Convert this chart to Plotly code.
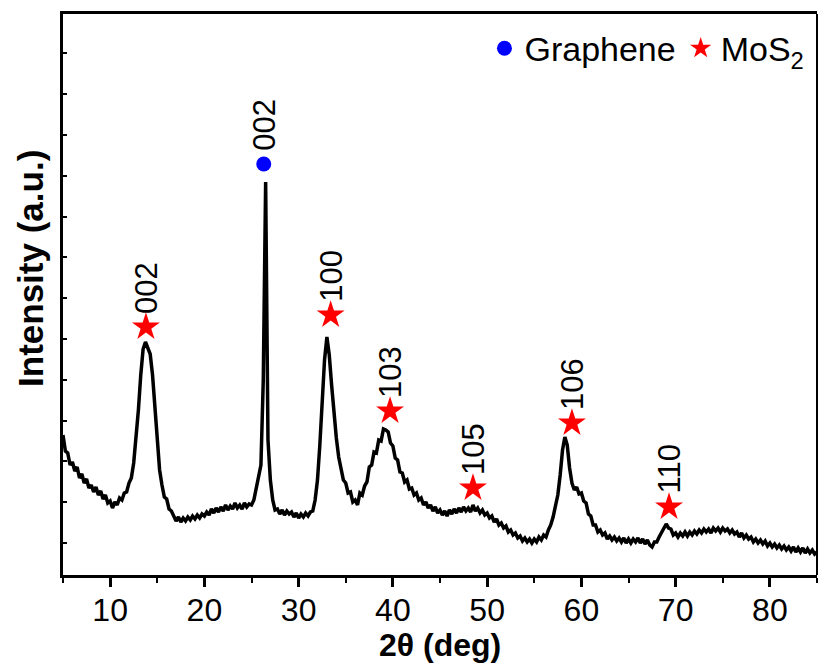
import numpy as np
import plotly.graph_objects as go

# XRD pattern: 2-theta grid (0.25 deg sampling) and intensity (a.u.)
two_theta = np.arange(5.0, 85.0001, 0.25)
intensity = [
    140, 124, 122, 110, 113, 104, 108, 97, 101, 92, 96, 87, 90, 83, 88, 80, 84, 76, 80, 72,
    74, 67, 73, 70, 77, 75, 82, 83, 92, 97, 112, 135, 165, 200, 226, 233, 228, 221, 200, 165,
    130, 105, 90, 78, 76, 66, 64, 58, 54, 58, 53, 57, 54, 58, 55, 59, 56, 60, 57, 61,
    59, 63, 60, 66, 62, 67, 63, 68, 64, 70, 65, 69, 66, 72, 67, 70, 66, 72, 68, 71,
    70, 75, 86, 95, 110, 195, 393, 135, 95, 75, 65, 66, 61, 65, 60, 64, 61, 63, 58, 62,
    57, 61, 58, 62, 59, 63, 64, 75, 95, 130, 175, 215, 238, 220, 190, 160, 137, 118, 107, 95,
    92, 82, 83, 73, 75, 70, 82, 80, 89, 93, 108, 110, 123, 122, 135, 134, 146, 145, 143, 132,
    129, 117, 115, 103, 102, 93, 95, 86, 87, 80, 82, 75, 77, 70, 73, 67, 70, 64, 68, 62,
    65, 60, 64, 59, 65, 61, 66, 62, 67, 63, 68, 64, 67, 63, 70, 64, 67, 62, 65, 60,
    62, 57, 59, 53, 56, 50, 52, 47, 49, 43, 45, 40, 42, 37, 39, 34, 37, 33, 36, 32,
    36, 33, 38, 35, 40, 38, 45, 50, 58, 68, 80, 100, 125, 138, 130, 107, 92, 85, 88, 81,
    82, 74, 72, 61, 59, 50, 50, 43, 45, 40, 42, 36, 39, 35, 38, 34, 37, 33, 37, 32,
    36, 32, 36, 33, 37, 32, 36, 31, 35, 30, 28, 33, 33, 38, 42, 47, 51, 47, 46, 40,
    42, 38, 42, 39, 43, 39, 43, 40, 44, 41, 45, 42, 46, 43, 46, 42, 47, 44, 47, 43,
    47, 44, 46, 42, 45, 41, 43, 38, 42, 37, 40, 36, 38, 33, 36, 32, 35, 31, 34, 29,
    32, 28, 31, 27, 30, 26, 29, 25, 28, 24, 28, 23, 27, 23, 27, 22, 26, 22, 25, 21,
    23,
]

# Peak markers
graphene_x = [26.3]
graphene_y = [411]
graphene_labels = ["002"]

mos2_x = [13.8, 33.4, 39.7, 48.5, 59.0, 69.3]
mos2_y = [248, 260, 164, 87, 152, 68]
mos2_labels = ["002", "100", "103", "105", "106", "110"]

FONT = "Liberation Sans, Arial, sans-serif"

fig = go.Figure()
fig.add_trace(go.Scatter(
    x=two_theta, y=intensity, mode="lines",
    line=dict(color="black", width=3.5), showlegend=False, hoverinfo="skip",
))
fig.add_trace(go.Scatter(
    x=graphene_x, y=graphene_y, mode="markers", name="Graphene",
    marker=dict(symbol="circle", color="#0000ff", size=15, line=dict(width=0)),
))
fig.add_trace(go.Scatter(
    x=mos2_x, y=mos2_y, mode="markers", name="MoS<sub>2</sub>",
    marker=dict(symbol="star", color="#ff0000", size=21, line=dict(width=0)),
))

annotations = []
for xs, ys, labs in [(graphene_x, graphene_y, graphene_labels), (mos2_x, mos2_y, mos2_labels)]:
    for x, y, t in zip(xs, ys, labs):
        annotations.append(dict(
            x=x, y=y, xref="x", yref="y", text=t, showarrow=False,
            textangle=-90, xanchor="center", yanchor="bottom", yshift=11,
            font=dict(family=FONT, size=31, color="black"),
        ))

annotations.append(dict(
    x=0.5, y=-0.125, xref="paper", yref="paper", text="<b>2θ (deg)</b>",
    showarrow=False, xanchor="center", yanchor="middle",
    font=dict(family=FONT, size=32, color="black"),
))
annotations.append(dict(
    x=-0.044, y=0.547, xref="paper", yref="paper", text="<b>Intensity (a.u.)</b>",
    showarrow=False, xanchor="center", yanchor="middle", textangle=-90,
    font=dict(family=FONT, size=35, color="black"),
))

fig.update_layout(
    width=818, height=668,
    margin=dict(l=63, r=1, t=14, b=93),
    paper_bgcolor="white", plot_bgcolor="white",
    font=dict(family=FONT, size=32, color="black"),
    annotations=annotations,
    showlegend=True,
    legend=dict(
        orientation="h", x=0.99, xanchor="right", y=0.99, yanchor="top",
        bgcolor="rgba(0,0,0,0)", font=dict(family=FONT, size=34, color="black"),
        itemsizing="trace", tracegroupgap=0,
    ),
    shapes=[dict(type="line", xref="paper", yref="paper", x0=1, x1=1, y0=0, y1=1,
                 line=dict(color="black", width=2))],
)

fig.update_xaxes(
    range=[5, 85], tickmode="linear", tick0=10, dtick=10,
    ticks="outside", ticklen=9, tickwidth=2.5, tickcolor="black",
    minor=dict(tickmode="linear", tick0=5, dtick=5, ticks="outside", ticklen=5, tickwidth=2, tickcolor="black"),
    showline=True, linecolor="black", linewidth=3, mirror=True,
    showgrid=False, zeroline=False,
    tickfont=dict(family=FONT, size=32, color="black"),
    ticklabelstandoff=-4,
)
fig.update_yaxes(
    range=[0, 561], tickmode="linear", tick0=32, dtick=40.8,
    ticks="inside", ticklen=4, tickwidth=2, tickcolor="black",
    showticklabels=False,
    showline=True, linecolor="black", linewidth=3, mirror=False,
    showgrid=False, zeroline=False,
)

fig.write_html("out.html")
